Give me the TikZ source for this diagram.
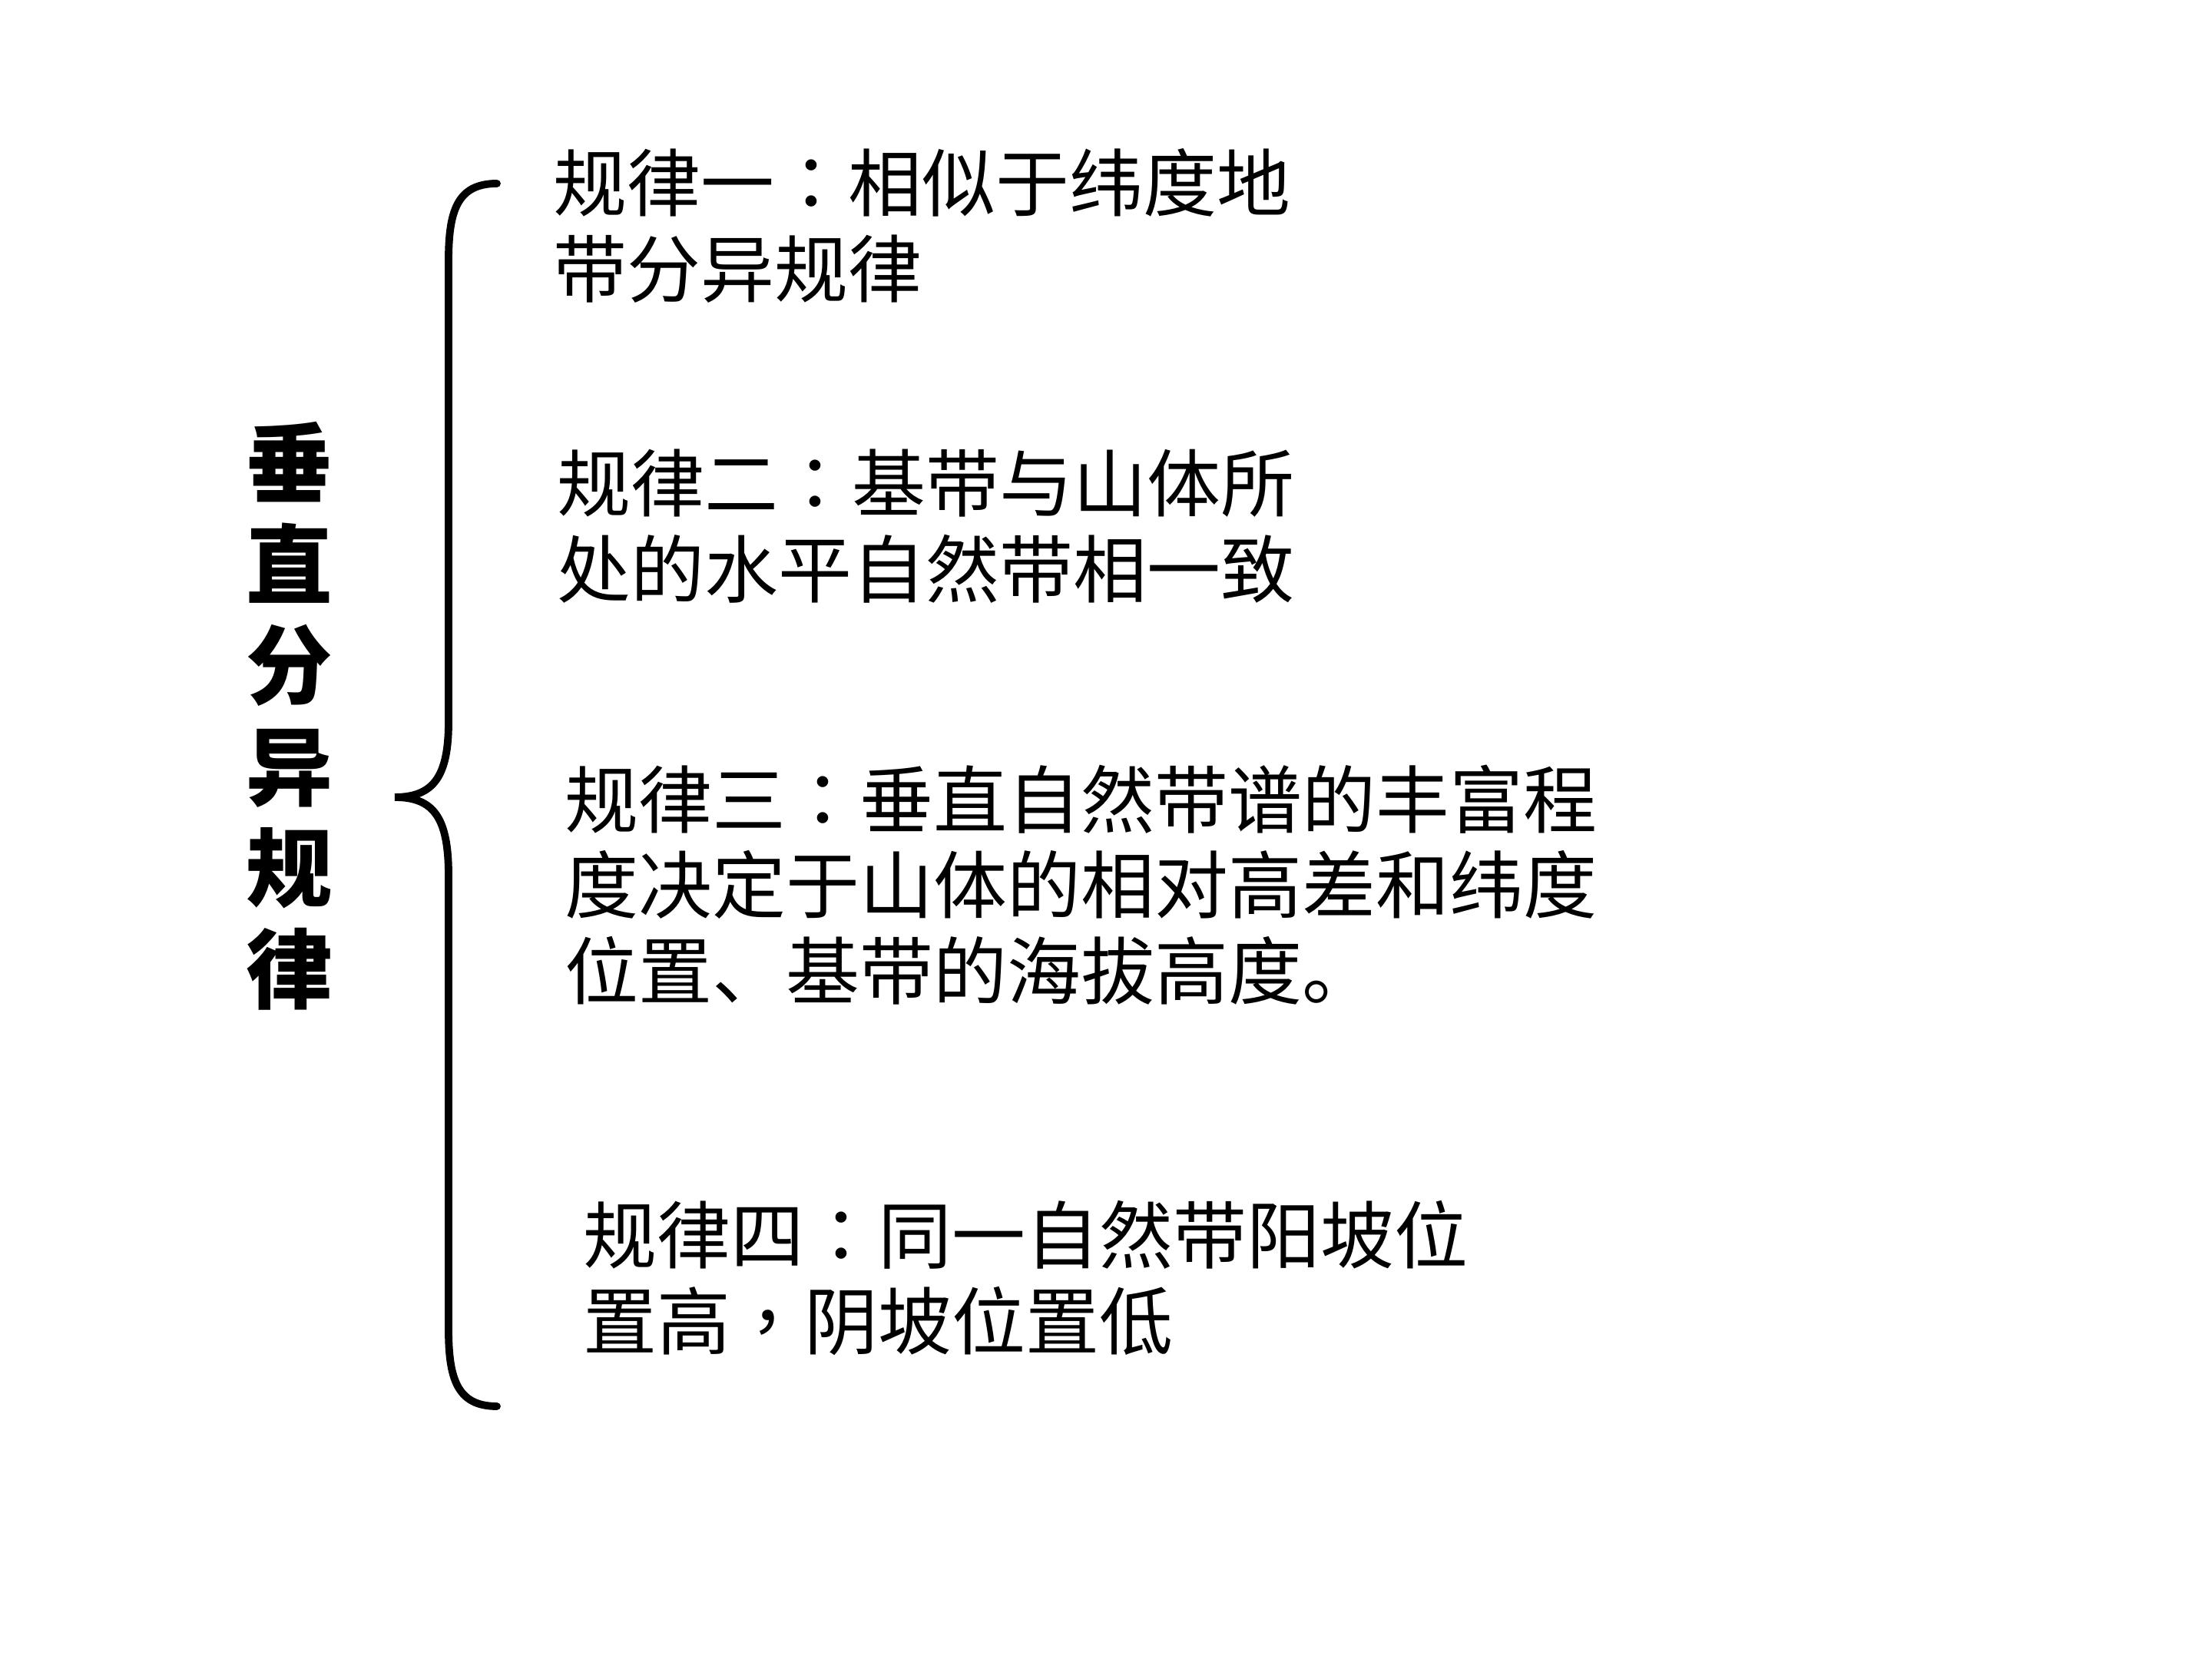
\documentclass[tikz,border=0pt]{standalone}
\usepackage{fontspec}
\newfontfamily\cjk{Noto Sans CJK SC}
\newfontfamily\cjkpunct{Noto Sans CJK TC}
\newcommand{\colonmark}{{\cjkpunct ：}}
\newcommand{\commamark}{{\cjkpunct ，}}
\tikzset{
  ruletext/.style={anchor=west,align=left,inner sep=0pt,
    font=\cjk\fontsize{27.3}{31.8}\selectfont},
  titletext/.style={align=center,inner sep=0pt,
    font=\cjk\bfseries\fontsize{32}{37.5}\selectfont},
  bracket/.style={line width=2.8pt,line cap=round}
}
\begin{document}
\begin{tikzpicture}
  \useasboundingbox (0,0) rectangle (28.8,21.6);
  \node[titletext] (title) at (3.77,12.28) {垂\\直\\分\\异\\规\\律};
  \draw[bracket] (6.47,19.21) .. controls (5.95,19.21) and (5.84,18.85) .. (5.84,18.2)
    -- (5.84,12.2) .. controls (5.84,11.5) and (5.65,11.22) .. (5.14,11.22)
    .. controls (5.65,11.22) and (5.84,10.95) .. (5.84,10.2)
    -- (5.84,4.3) .. controls (5.84,3.65) and (5.95,3.29) .. (6.47,3.29);
  \node[ruletext] (rule1) at (7.20,18.66) {规律一\colonmark 相似于纬度地\\带分异规律};
  \node[ruletext] (rule2) at (7.25,14.75) {规律二\colonmark 基带与山体所\\处的水平自然带相一致};
  \node[ruletext] (rule3) at (7.35,10.08) {规律三\colonmark 垂直自然带谱的丰富程\\度决定于山体的相对高差和纬度\\位置、基带的海拔高度。};
  \node[ruletext] (rule4) at (7.59,4.96) {规律四\colonmark 同一自然带阳坡位\\置高\commamark 阴坡位置低};
\end{tikzpicture}
\end{document}
